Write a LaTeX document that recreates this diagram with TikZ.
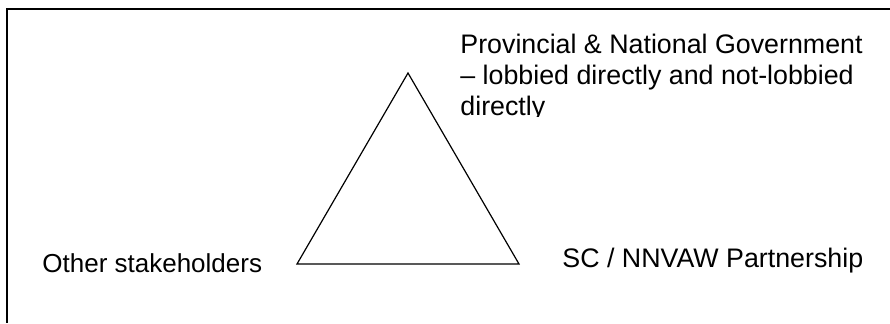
\documentclass[tikz,border=0pt]{standalone}
\usepackage{fontspec}
\setmainfont{Liberation Sans}
\usepackage{tikz}

\begin{document}
\begin{tikzpicture}[x=0.5pt,y=-0.5pt,
  lbl/.style={anchor=base west,inner sep=0pt,font=\fontsize{13.4}{16}\selectfont}]
\useasboundingbox (0,0) rectangle (890,323);
% frame
\coordinate (fr) at (890,9);
\coordinate (fc) at (7,9);
\coordinate (fb) at (7,323);
\draw[line width=1pt] (fr) -- (fc) -- (fb);
% triangle
\coordinate (top) at (408,73);
\coordinate (left) at (297,264);
\coordinate (right) at (519,264);
\draw[line width=0.6pt,line join=miter] (top) -- (left) -- (right) -- cycle;
% labels
\node[lbl] (gov1) at (460,53) {Provincial \& National Government};
\node[lbl] (gov2) at (460,84) {-- lobbied directly and not-lobbied};
\begin{scope}
\clip (440,90) rectangle (890,116);
\node[lbl] (gov3) at (460,115) {directly};
\end{scope}
\node[lbl,font=\fontsize{13}{16}\selectfont] (other) at (42,272) {Other stakeholders};
\node[lbl] (sc) at (562,267) {SC / NNVAW Partnership};
\end{tikzpicture}
\end{document}
